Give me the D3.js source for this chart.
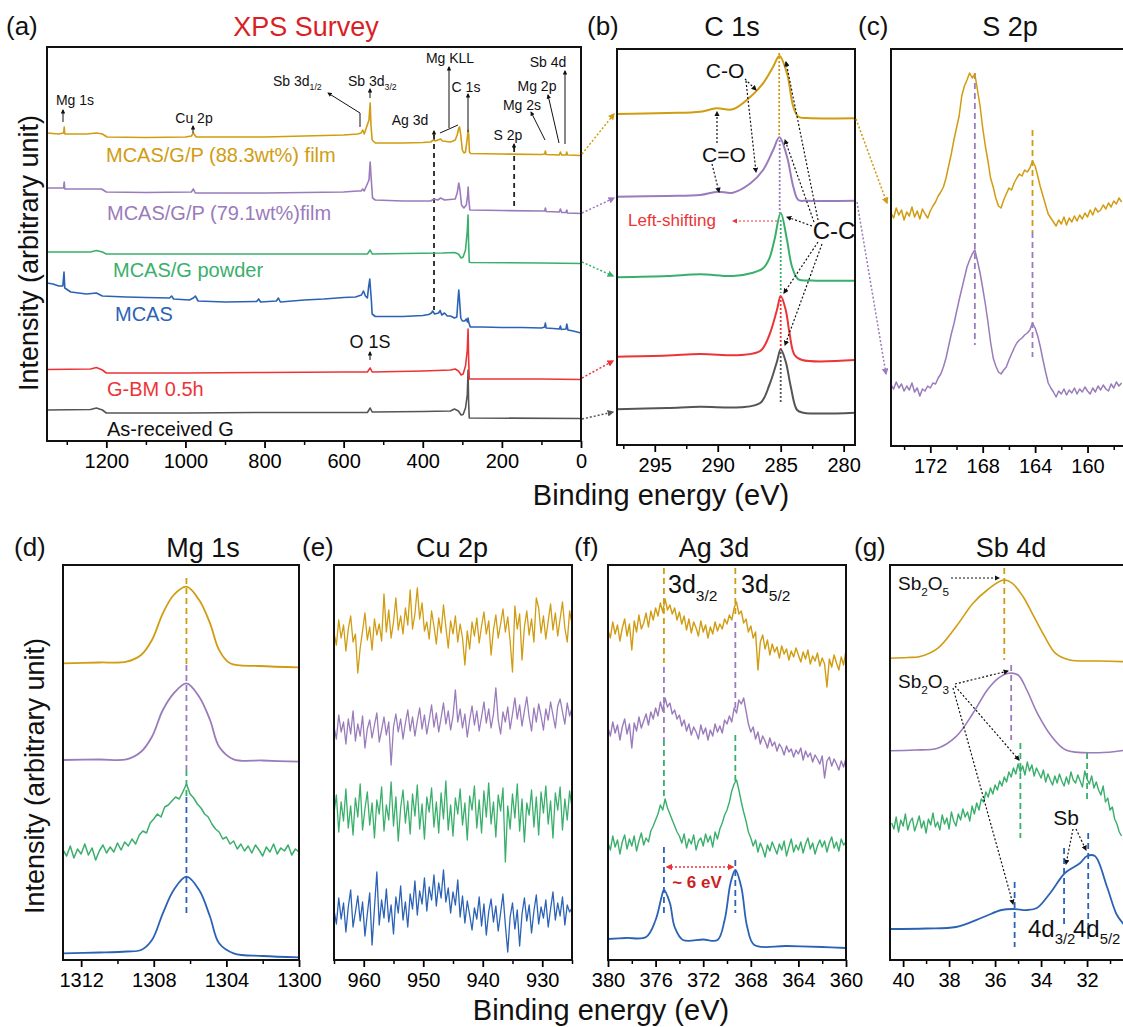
<!DOCTYPE html>
<html>
<head>
<meta charset="utf-8">
<script src="https://cdn.jsdelivr.net/npm/d3@7"></script>
<style>
  body { margin: 0; background: #fff; }
  svg text { font-family: "Liberation Sans", Arial, sans-serif; }
</style>
</head>
<body>
<script>
// ---------- data (binding energy in eV, intensity in arbitrary units) ----------

// (a) survey, [BE, intensity]
const surveyGold = [[1350,308],[1320,307],[1308,308],[1306.5,314],[1305,307],[1250,307],[1225,308],[1210,307],[1198,304],[1100,303.5],[1000,304],[985,305],[980,308],[973,304],[900,304],[800,304],[700,305],[600,306],[565,307],[556,308],[552,311],[548,307],[536,321],[533,338],[531,316],[528,301],[520,298],[450,298],[400,298.5],[380,299],[373,301],[368,300],[355,302],[350,300],[330,299],[318,301],[313,306],[309,313],[307,314],[304,306],[300,291],[296,288],[292,289],[288,301],[285.3,311],[283.8,306],[282,289],[279,287.5],[200,287],[100,286.5],[92,287],[90,290],[88,286.5],[55,286],[52,289],[49,286],[38,286],[36,289],[34,286],[0,285.5]];
const surveyPurple = [[1350,253],[1310,253],[1308,253],[1306.5,259],[1305,252],[1230,252],[1212,252],[1200,249],[1100,248.5],[985,249],[980,252],[975,248],[900,248],[800,248],[700,248.5],[600,249],[565,250],[556,250],[552,252],[548,250],[536,261],[533,279],[531,266],[527,243],[520,241],[450,240],[380,240],[372,242],[362,241],[355,243],[345,241],[318,242],[313,248],[309,258],[306,251],[302,236],[296,233],[290,236],[286.5,246],[285.3,254],[283.5,241],[281,231],[200,230.5],[100,230],[92,230],[90,233],[88,229.5],[55,229],[52,232],[49,228.5],[38,228.5],[36,231],[34,228],[0,227.5]];
const surveyGreen = [[1350,189],[1240,189],[1225,190.5],[1210,189],[1200,187],[1000,187],[800,187],[600,187],[540,187],[533,191],[528,187],[450,187.5],[350,188],[320,188.5],[310,187],[303,183],[298,184],[292,191],[287.5,210],[285.5,226],[284.3,200],[282.5,179],[279,178.5],[100,178],[0,177.5]];
const surveyBlue = [[1350,158],[1335,157],[1320,155],[1310,155],[1307,169],[1305,153],[1290,149],[1250,147],[1225,148],[1210,145],[1150,144],[1100,143.5],[1040,143],[1035,145],[1030,142],[990,141],[980,143],[975,145],[968,140],[900,139],[820,139.5],[815,142],[810,139],[770,140],[765,143],[760,139],[700,141],[650,142],[600,143.5],[570,144],[555,146],[550,150],[545,145],[540,143],[537,154],[534,162],[532,151],[530,141],[528,127],[520,124.5],[450,124.5],[400,125.5],[385,126.5],[378,128],[375,130],[370,127],[360,128],[356,130.5],[352,126],[345,128],[338,125],[330,125],[320,123],[314,124],[311,141],[309,151],[307,141],[304,123],[300,120],[294,120],[290,122],[287,119],[285.5,123],[284,119],[280,114],[250,114],[200,113.5],[150,113.5],[100,113],[92,114],[90,118],[88,113],[70,112.5],[55,112],[52,115],[50,111.5],[38,112],[36,117],[33,111],[20,110],[10,109],[0,108]];
const surveyRed = [[1350,71.5],[1240,72],[1225,73.5],[1210,71],[1200,68],[1100,68],[1000,68],[800,68.5],[600,69],[540,69],[533,73],[528,69],[400,70],[330,71],[318,72],[310,70],[303,66],[298,67],[292,75],[287.5,91],[285.5,112],[284.3,86],[282.5,62],[279,62],[100,62],[0,61.5]];
const surveyGray = [[1350,31],[1240,31.5],[1225,33],[1210,31],[1200,28],[1000,28],[800,28.5],[600,28.5],[540,28.5],[533,33],[528,29],[400,29.5],[330,30],[320,32],[310,30],[303,26],[298,26.5],[292,33],[287.5,46],[285.5,71],[284.3,41],[282.5,23],[0,22.5]];

// (b) C 1s, [BE, intensity]
const c1sGold = [[298,331],[294,332],[291.4,333.3],[290.1,336.7],[288.8,335.7],[287.4,348.3],[286.4,361.7],[285.6,378.3],[285.1,389],[284.5,371.7],[284.0,338.3],[283.6,328.3],[282.9,327],[279,326.7]];
const c1sPurple = [[298,248.3],[294,249],[291.4,250],[290,253.3],[288.8,252.3],[287.4,261.7],[286.4,275],[285.6,295],[285.1,307.7],[284.5,288.3],[284.0,258.3],[283.6,245],[282.9,244.3],[279,244.3]];
const c1sGreen = [[298,167.7],[294,169],[291.4,170.7],[288.8,169],[287.2,172.3],[286.4,176.7],[285.9,186.7],[285.5,205],[285.0,232],[284.5,205],[284.1,178.3],[283.6,165.7],[282.5,164.5],[279,164.3]];
const c1sRed = [[298,88.3],[294,89.5],[291.4,91],[288.2,90],[286.6,94.3],[285.9,110],[285.3,135],[285.0,149],[284.6,135],[284.3,111.7],[283.9,90],[283.3,85],[279,85]];
const c1sGray = [[298,35.7],[294,37],[291.4,38.3],[288.2,37.7],[286.6,42.3],[285.9,60],[285.3,83.3],[285.0,95.7],[284.6,83.3],[284.2,58.3],[283.7,35],[283.2,32.3],[279,32.3]];

// (c) S 2p, 0.2 eV steps from 175 eV
const s2pStart = 175, s2pStep = 0.2;
const s2pGold = [233,228,238,231,236,226,234,230,239,229,235,227,237,232,228,235,240,244,250,254,259,268,280,292,306,318,330,350,360,366,373,368,372,356,340,318,300,285,268,259,248,240,238,246,252,258,256,263,268,272,270,276,274,278,285,280,270,259,250,241,232,228,224,220,226,222,229,221,228,224,230,225,231,227,233,229,236,231,238,234,236,241,237,243,239,245,242,248,244];
const s2pPurple = [61,57,64,58,62,55,60,56,63,54,58,50,57,55,60,58,63,62,68,72,79,88,100,112,122,134,146,157,168,179,186,192,196,185,173,158,142,124,104,88,80,74,72,76,79,86,92,98,103,106,108,111,113,116,123,118,110,99,86,74,63,58,54,49,55,52,57,51,56,53,58,52,57,54,59,55,52,58,54,60,56,61,57,55,62,58,64,60,63];

// (d) Mg 1s
const mgGold = [[1313,296.7],[1311,297.5],[1309.5,298.3],[1308.7,305],[1308.1,320],[1307.5,346.7],[1306.9,365],[1306.2,373.3],[1305.5,360],[1304.9,336.7],[1304.4,310],[1303.8,296.7],[1302.2,294],[1300,292.7]];
const mgPurple = [[1313,200],[1311,200.5],[1309.5,200.7],[1308.7,208.3],[1308.1,223.3],[1307.5,250],[1306.9,266.7],[1306.2,276.7],[1305.5,263.3],[1304.9,240],[1304.4,213.3],[1303.6,200.7],[1302,199.5],[1300,198.3]];
const mgGreenStart = 1313, mgGreenStep = 0.2;
const mgGreen = [110,104,114,102,111,106,116,105,112,100,109,115,107,113,108,117,110,118,114,121,116,125,129,127,137,141,146,143,153,155,159,163,161,168,176,166,162,156,152,146,143,136,131,128,121,123,116,119,111,116,109,114,107,115,110,104,113,108,116,106,112,109,115,105,111,108];
const mgBlue = [[1313,6.7],[1311,7.5],[1309.5,8.5],[1308.7,10],[1308.1,20],[1307.5,46.7],[1306.9,70],[1306.2,83.3],[1305.5,70],[1304.9,43.3],[1304.4,16.7],[1303.6,6.7],[1302,4],[1300,2.7]];

// (e) Cu 2p, 0.4 eV steps from 965 eV
const cuStart = 965, cuStep = 0.4;
const cuGold = [327,315,340,322,335,309,331,344,318,326,287,312,329,347,320,333,310,341,325,336,319,366,328,350,322,338,362,330,344,326,352,335,370,331,346,372,341,357,329,338,321,349,334,316,342,327,355,333,312,339,326,344,318,336,322,295,329,311,338,324,342,317,334,348,326,339,305,330,345,322,336,351,328,343,319,288,354,331,346,300,333,349,325,341,318,362,352,327,344,321,339,356,330,347,324,341,358,332,318,349,336];
const cuPurple = [233,221,245,228,238,216,241,226,249,219,236,224,244,212,231,240,222,235,247,218,230,243,225,238,195,233,246,228,241,221,237,250,229,243,224,239,252,231,245,226,240,255,233,247,228,242,257,236,249,230,244,270,238,251,232,246,223,240,254,235,249,229,243,258,237,251,232,246,272,240,226,248,238,253,231,246,262,241,255,234,249,263,243,229,252,238,256,244,230,251,240,258,245,232,254,261,248,236,257,244,252];
const cuGreen = [147,165,128,158,139,171,132,154,125,162,143,176,130,151,168,135,157,122,160,146,173,129,155,140,178,134,163,119,152,170,137,159,126,166,144,175,131,156,121,163,148,172,133,158,127,167,141,179,130,155,124,162,146,171,135,157,120,164,150,174,132,160,127,169,143,177,136,158,123,165,149,172,98,154,131,166,142,176,129,161,118,157,145,170,133,163,125,168,147,174,136,159,122,167,150,173,130,161,140,169,152];
const cuBlue = [50,36,62,41,57,28,53,70,33,48,64,39,58,24,46,67,15,52,88,35,60,42,71,38,55,26,63,47,74,40,58,33,66,51,79,45,69,56,82,49,73,60,85,54,77,62,90,58,72,47,68,55,80,43,64,37,59,45,30,52,41,63,34,56,25,48,61,38,54,29,47,66,35,8,43,57,31,50,14,46,62,39,55,27,49,65,36,53,42,60,33,51,68,40,57,44,63,35,55,48,52];

// (f) Ag 3d, 0.2 eV steps from 380 eV
const agStart = 380, agStep = 0.2;
const agGold = [330,322,338,326,335,319,332,341,324,336,310,339,328,345,331,337,347,333,349,340,352,344,357,348,361,350,355,346,352,340,348,336,344,330,341,327,338,332,324,339,328,335,322,333,326,338,329,336,331,341,336,345,340,352,358,346,349,337,341,328,334,322,328,290,318,325,311,320,305,316,308,313,302,314,306,311,300,309,303,312,305,298,308,301,310,296,304,299,307,294,302,296,273,301,293,305,297,290,303,295,310];
const agPurple = [232,224,238,227,235,220,233,241,226,236,212,237,229,243,232,239,246,235,248,241,252,244,258,249,262,253,257,246,250,241,245,234,240,229,236,225,233,228,221,235,226,232,220,230,224,236,228,234,227,240,236,244,238,252,247,260,256,262,249,236,228,233,221,228,216,224,219,212,222,214,218,209,216,212,205,214,208,211,203,210,206,212,200,209,203,207,198,205,201,196,204,182,199,203,194,201,196,190,199,193,202];
const agGreen = [117,110,124,113,120,106,118,125,111,121,114,124,109,119,127,115,122,118,129,134,140,146,155,150,161,152,146,140,134,128,124,117,126,112,121,116,125,110,119,122,114,126,118,124,113,128,121,131,137,145,150,158,169,176,180,170,158,148,139,128,122,114,120,108,117,111,103,115,109,118,112,106,116,110,119,104,113,121,108,115,110,118,107,116,122,111,117,106,114,120,113,119,108,117,123,112,118,109,121,115,118];
const agBlue = [[380,21],[378.5,22],[376.8,23],[376.0,40],[375.5,63],[375.3,70],[374.8,57],[374.4,33],[373.7,20],[372,20.5],[370.8,20],[370.2,40],[369.7,77],[369.3,90],[368.8,73],[368.3,33],[367.7,15],[365,14],[362,13],[360,12]];

// (g) Sb 4d
const sbGold = [[40.57,301.7],[39.8,302.5],[39.3,303.3],[38.5,311.7],[37.7,333.3],[36.96,356.7],[36.34,370],[35.64,380],[35.25,376.7],[34.78,363.3],[34.31,343.3],[33.84,323.3],[33.37,306.7],[32.75,300],[31.5,299],[30.3,298.3]];
const sbPurple = [[40.57,209.3],[39.5,210],[38.5,211.7],[37.7,223.3],[36.96,246.7],[36.34,270],[35.87,281.7],[35.4,286.7],[35.0,285],[34.62,270],[34.16,246.7],[33.53,223.3],[32.92,210],[31.5,207.3],[30.3,210]];
const sbGreenStart = 40.5, sbGreenStep = 0.1;
const sbGreen = [137,131,143,128,140,134,146,130,138,142,129,136,144,132,139,127,141,135,147,133,138,130,145,136,142,131,148,139,134,146,140,151,143,148,139,154,146,157,150,161,158,168,163,172,166,175,170,179,174,183,178,188,183,192,186,196,188,194,185,198,189,195,184,192,187,182,190,178,186,180,175,184,177,186,179,174,183,176,188,180,177,185,179,173,189,181,176,184,172,178,170,165,174,158,162,150,153,141,136,128,124];
const sbBlue = [[40.57,31],[39,31.5],[37.7,33],[36.5,43],[35.72,50],[35.2,51],[34.6,50],[34.18,52],[33.6,67],[32.96,87],[32.3,97],[32.0,104],[31.66,104],[31.13,73],[30.7,45],[30.3,33]];

// ---------- drawing ----------
const FONT = '"Liberation Sans", Arial, sans-serif';
const C = { gold: "#d09c12", purple: "#9a7bbb", green: "#3aaf6b", blue: "#2c62b5", red: "#ec3437", gray: "#555555", black: "#111111" };

const svg = d3.select("body").append("svg").attr("width", 1123).attr("height", 1027);
const defs = svg.append("defs");

Object.entries(C).forEach(([k, c]) => {
  defs.append("marker").attr("id", "ah-" + k)
    .attr("viewBox", "0 0 10 10").attr("refX", 8).attr("refY", 5)
    .attr("markerWidth", 4.5).attr("markerHeight", 4.5)
    .attr("orient", "auto-start-reverse")
    .append("path").attr("d", "M0,0L10,5L0,10z").attr("fill", c);
});

const onGrid = (start, step, vals) => vals.map((v, i) => [start - step * i, v]);

const panels = {
  a: { left: 47, right: 581, top: 47, bottom: 441, domain: [1350, 0], major: [1200, 1000, 800, 600, 400, 200, 0], minor: [1300, 1100, 900, 700, 500, 300, 100] },
  b: { left: 617, right: 855, top: 49, bottom: 445, domain: [298, 279.1], major: [295, 290, 285, 280], minor: [297.5, 292.5, 287.5, 282.5] },
  c: { left: 891, right: 1125, top: 49, bottom: 446, domain: [175, 157.14], major: [172, 168, 164, 160], minor: [174, 170, 166, 162, 158] },
  d: { left: 63, right: 299, top: 565, bottom: 960, domain: [1313, 1300], major: [1312, 1308, 1304, 1300], minor: [1310, 1306, 1302] },
  e: { left: 334, right: 572, top: 565, bottom: 960, domain: [965, 925], major: [960, 950, 940, 930], minor: [965, 955, 945, 935, 925] },
  f: { left: 608, right: 846, top: 565, bottom: 960, domain: [380, 360], major: [380, 376, 372, 368, 364, 360], minor: [378, 374, 370, 366, 362] },
  g: { left: 890, right: 1125, top: 565, bottom: 960, domain: [40.57, 30.35], major: [40, 38, 36, 34, 32], minor: [39, 37, 35, 33, 31] }
};

function makePanel(key) {
  const p = panels[key];
  const x = d3.scaleLinear().domain(p.domain).range([p.left, p.right]);
  const y = d3.scaleLinear().domain([0, p.bottom - p.top]).range([p.bottom, p.top]);
  defs.append("clipPath").attr("id", "clip-" + key).append("rect")
    .attr("x", p.left).attr("y", p.top)
    .attr("width", Math.min(p.right, 1123) - p.left).attr("height", p.bottom - p.top);
  const g = svg.append("g");
  const plot = g.append("g").attr("clip-path", "url(#clip-" + key + ")");

  const major = g.append("g").attr("transform", `translate(0,${p.bottom})`)
    .call(d3.axisBottom(x).tickValues(p.major).tickSize(7).tickPadding(6).tickFormat(d3.format("d")));
  major.attr("font-size", 20).attr("font-family", FONT);
  major.select(".domain").remove();
  major.selectAll("line").attr("stroke-width", 1.8);
  const minor = g.append("g").attr("transform", `translate(0,${p.bottom})`)
    .call(d3.axisBottom(x).tickValues(p.minor).tickSize(4).tickFormat(""));
  minor.select(".domain").remove();
  minor.selectAll("line").attr("stroke-width", 1.5);

  g.append("rect").attr("x", p.left).attr("y", p.top)
    .attr("width", p.right - p.left).attr("height", p.bottom - p.top)
    .attr("fill", "none").attr("stroke", "#111").attr("stroke-width", 2);
  return { x, y, plot, g };
}

function series(P, data, color, width, curve) {
  P.plot.append("path").datum(data)
    .attr("fill", "none").attr("stroke", color).attr("stroke-width", width)
    .attr("stroke-linejoin", "round")
    .attr("d", d3.line().x(d => P.x(d[0])).y(d => P.y(d[1])).curve(curve || d3.curveLinear));
}

// vertical guide at a binding energy, between two intensities
function guide(P, be, v0, v1, color, dash) {
  P.plot.append("line")
    .attr("x1", P.x(be)).attr("x2", P.x(be)).attr("y1", P.y(v0)).attr("y2", P.y(v1))
    .attr("stroke", color).attr("stroke-width", 1.8).attr("stroke-dasharray", dash || "6,4");
}

// leader / arrow in page pixels
function leader(pts, color, opt) {
  opt = opt || {};
  const path = svg.append("path")
    .attr("d", d3.line()(pts)).attr("fill", "none")
    .attr("stroke", C[color]).attr("stroke-width", opt.w || 1.2);
  if (opt.dash) path.attr("stroke-dasharray", opt.dash);
  if (opt.head !== false) path.attr("marker-end", "url(#ah-" + color + ")");
  if (opt.both) path.attr("marker-start", "url(#ah-" + color + ")");
}

// text with optional subscripts: parts = ["Sb 3d", ["1/2"]]
function label(x, y, parts, size, color, anchor, weight) {
  const t = svg.append("text").attr("x", x).attr("y", y)
    .attr("font-size", size).attr("fill", color || "#111")
    .attr("text-anchor", anchor || "start").attr("font-weight", weight || "normal");
  let sub = false;
  parts.forEach(part => {
    if (Array.isArray(part)) {
      t.append("tspan").attr("font-size", size * 0.62).attr("dy", size * 0.3).text(part[0]);
      sub = true;
    } else {
      const s = t.append("tspan").text(part);
      if (sub) { s.attr("dy", -size * 0.3); sub = false; }
    }
  });
  return t;
}

// ---- (a) survey
const A = makePanel("a");
guide(A, 371.6, 306, 131, "#222", "5,4");
guide(A, 169, 294, 231, "#222", "5,4");
series(A, surveyGray, C.gray, 1.6);
series(A, surveyRed, C.red, 1.6);
series(A, surveyBlue, C.blue, 1.6);
series(A, surveyGreen, C.green, 1.6);
series(A, surveyPurple, C.purple, 1.6);
series(A, surveyGold, C.gold, 1.6);

label(106, 162, ["MCAS/G/P (88.3wt%) film"], 20, C.gold);
label(107, 220, ["MCAS/G/P (79.1wt%)film"], 20, C.purple);
label(113, 277, ["MCAS/G powder"], 20, C.green);
label(115, 321, ["MCAS"], 20, C.blue);
label(107, 396, ["G-BM 0.5h"], 20, C.red);
label(107, 436, ["As-received G"], 20, C.black);

label(75, 105, ["Mg 1s"], 14, "#111", "middle");
leader([[63, 122], [63, 110]], "black", { w: 1 });
label(194, 123, ["Cu 2p"], 14, "#111", "middle");
leader([[193, 133], [193, 126]], "black", { w: 1 });
label(273, 86, ["Sb 3d", ["1/2"]], 14, "#111");
leader([[360, 127], [360, 113], [328, 93]], "black", { w: 1 });
label(348, 86, ["Sb 3d", ["3/2"]], 14, "#111");
leader([[370, 98], [370, 89]], "black", { w: 1 });
label(450, 63, ["Mg KLL"], 14, "#111", "middle");
leader([[449, 128], [449, 67]], "black", { w: 1 });
leader([[440, 133], [458, 125]], "black", { w: 1, head: false });
label(410, 125, ["Ag 3d"], 14, "#111", "middle");
leader([[434, 136], [434, 131]], "black", { w: 1 });
label(466, 92, ["C 1s"], 14, "#111", "middle");
leader([[468, 132], [468, 94]], "black", { w: 1 });
label(508, 140, ["S 2p"], 14, "#111", "middle");
leader([[514, 149], [514, 144]], "black", { w: 1 });
label(522, 110, ["Mg 2s"], 14, "#111", "middle");
leader([[545, 140], [531, 112]], "black", { w: 1 });
label(537, 91, ["Mg 2p"], 14, "#111", "middle");
leader([[559, 143], [548, 95]], "black", { w: 1 });
label(548, 67, ["Sb 4d"], 14, "#111", "middle");
leader([[565, 144], [565, 71]], "black", { w: 1 });
label(370, 348, ["O 1S"], 18, "#111", "middle");
leader([[370, 360], [370, 352]], "black", { w: 1 });

// ---- (b) C 1s
const B = makePanel("b");
const smooth = d3.curveCatmullRom.alpha(0.5);
series(B, c1sGray, C.gray, 2, smooth);
series(B, c1sRed, C.red, 2, smooth);
series(B, c1sGreen, C.green, 2, smooth);
series(B, c1sPurple, C.purple, 2, smooth);
series(B, c1sGold, C.gold, 2, smooth);
guide(B, 285.12, 392, 308, C.gold, "2,2");
guide(B, 285.08, 305, 232, C.purple, "2,2");
guide(B, 285.0, 225, 152, C.green, "2,2");
guide(B, 285.0, 149, 96, C.red, "2,2");
guide(B, 285.0, 93, 43, C.gray, "2,2");

label(725, 78, ["C-O"], 21, "#111", "middle");
leader([[745, 79], [756, 90]], "black", { dash: "2,2" });
leader([[746, 81], [756, 172]], "black", { dash: "2,2" });
label(724, 162, ["C=O"], 21, "#111", "middle");
leader([[717, 143], [717, 112]], "black", { dash: "2,2" });
leader([[712, 164], [719, 192]], "black", { dash: "2,2" });
label(834, 239, ["C-C"], 24, "#111", "middle");
leader([[818, 220], [786, 62]], "black", { dash: "2,2" });
leader([[814, 222], [785, 140]], "black", { dash: "2,2" });
leader([[812, 226], [787, 217]], "black", { dash: "2,2" });
leader([[818, 242], [784, 293]], "black", { dash: "2,2" });
leader([[822, 244], [785, 345]], "black", { dash: "2,2" });
label(628, 226, ["Left-shifting"], 17, C.red);
leader([[777, 221], [733, 221]], "red", { dash: "2,2" });

// ---- (c) S 2p
const Cp = makePanel("c");
guide(Cp, 168.6, 373, 101, C.purple, "6,4");
guide(Cp, 164.2, 316, 214, C.gold, "6,4");
guide(Cp, 164.2, 214, 89, C.purple, "6,4");
series(Cp, onGrid(s2pStart, s2pStep, s2pPurple), C.purple, 1.5);
series(Cp, onGrid(s2pStart, s2pStep, s2pGold), C.gold, 1.5);

// arrows linking panels
leader([[582, 154], [614, 114]], "gold", { dash: "2,2", w: 1.5 });
leader([[582, 213], [614, 198]], "purple", { dash: "2,2", w: 1.5 });
leader([[582, 262], [613, 276]], "green", { dash: "2,2", w: 1.5 });
leader([[582, 378], [613, 361]], "red", { dash: "2,2", w: 1.5 });
leader([[582, 419], [613, 412]], "gray", { dash: "2,2", w: 1.5 });
leader([[856, 119], [887, 203]], "gold", { dash: "2,2", w: 1.5 });
leader([[857, 202], [886, 374]], "purple", { dash: "2,2", w: 1.5 });

// ---- (d) Mg 1s
const D = makePanel("d");
guide(D, 1306.2, 382, 295, C.gold, "6,4");
guide(D, 1306.2, 295, 190, C.purple, "6,4");
guide(D, 1306.2, 190, 163, C.green, "6,4");
guide(D, 1306.2, 163, 43, C.blue, "6,4");
series(D, mgGold, C.gold, 1.8, smooth);
series(D, mgPurple, C.purple, 1.8, smooth);
series(D, onGrid(mgGreenStart, mgGreenStep, mgGreen), C.green, 1.5);
series(D, mgBlue, C.blue, 1.8, smooth);

// ---- (e) Cu 2p
const E = makePanel("e");
series(E, onGrid(cuStart, cuStep, cuGold), C.gold, 1.3);
series(E, onGrid(cuStart, cuStep, cuPurple), C.purple, 1.3);
series(E, onGrid(cuStart, cuStep, cuGreen), C.green, 1.3);
series(E, onGrid(cuStart, cuStep, cuBlue), C.blue, 1.3);

// ---- (f) Ag 3d
const F = makePanel("f");
guide(F, 375.3, 392, 297, C.gold, "6,4");
guide(F, 375.3, 293, 220, C.purple, "6,4");
guide(F, 375.3, 220, 160, C.green, "6,4");
guide(F, 375.3, 113, 43, C.blue, "6,4");
guide(F, 369.3, 392, 343, C.gold, "6,4");
guide(F, 369.3, 338, 250, C.purple, "6,4");
guide(F, 369.3, 225, 177, C.green, "6,4");
guide(F, 369.3, 100, 47, C.blue, "6,4");
series(F, onGrid(agStart, agStep, agGold), C.gold, 1.4);
series(F, onGrid(agStart, agStep, agPurple), C.purple, 1.4);
series(F, onGrid(agStart, agStep, agGreen), C.green, 1.4);
series(F, agBlue, C.blue, 1.8, smooth);
label(668, 593, ["3d", ["3/2"]], 25, "#111");
label(741, 593, ["3d", ["5/2"]], 25, "#111");
leader([[667, 867], [733, 867]], "red", { dash: "2,2", w: 1.4, both: true });
label(697, 888, ["~ 6 eV"], 17, "#cc1f1f", "middle", "bold");

// ---- (g) Sb 4d
const G = makePanel("g");
guide(G, 35.6, 392, 300, C.gold, "6,4");
guide(G, 35.3, 295, 220, C.purple, "6,4");
guide(G, 34.9, 217, 122, C.green, "6,4");
guide(G, 32.0, 207, 160, C.green, "6,4");
guide(G, 35.15, 78, 13, C.blue, "6,4");
guide(G, 33.0, 112, 33, C.blue, "6,4");
guide(G, 31.95, 127, 17, C.blue, "6,4");
series(G, sbGold, C.gold, 1.6, smooth);
series(G, sbPurple, C.purple, 1.6, smooth);
series(G, onGrid(sbGreenStart, sbGreenStep, sbGreen), C.green, 1.4);
series(G, sbBlue, C.blue, 1.8, smooth);
label(898, 590, ["Sb", ["2"], "O", ["5"]], 19, "#111");
leader([[951, 578], [999, 578]], "black", { dash: "2,2" });
label(898, 688, ["Sb", ["2"], "O", ["3"]], 19, "#111");
leader([[955, 684], [1008, 671]], "black", { dash: "2,2" });
leader([[955, 686], [1019, 760]], "black", { dash: "2,2" });
leader([[953, 688], [1013, 904]], "black", { dash: "2,2" });
label(1066, 825, ["Sb"], 21, "#111", "middle");
leader([[1073, 829], [1066, 864]], "black", { dash: "2,2" });
leader([[1076, 829], [1086, 850]], "black", { dash: "2,2" });
label(1028, 937, ["4d", ["3/2"]], 24, "#111");
label(1073, 937, ["4d", ["5/2"]], 24, "#111");

// ---- titles and axis labels
label(6, 35, ["(a)"], 26, "#111");
label(306, 36, ["XPS Survey"], 27, "#d91f26", "middle");
label(587, 35, ["(b)"], 26, "#111");
label(732, 36, ["C 1s"], 27, "#111", "middle");
label(858, 35, ["(c)"], 26, "#111");
label(1010, 36, ["S 2p"], 27, "#111", "middle");
label(14, 556, ["(d)"], 26, "#111");
label(203, 557, ["Mg 1s"], 27, "#111", "middle");
label(302, 556, ["(e)"], 26, "#111");
label(452, 557, ["Cu 2p"], 27, "#111", "middle");
label(574, 556, ["(f)"], 26, "#111");
label(714, 557, ["Ag 3d"], 27, "#111", "middle");
label(854, 556, ["(g)"], 26, "#111");
label(1011, 557, ["Sb 4d"], 27, "#111", "middle");

label(661, 505, ["Binding energy (eV)"], 29, "#111", "middle");
label(601, 1020, ["Binding energy (eV)"], 29, "#111", "middle");
label(0, 0, ["Intensity (arbitrary unit)"], 27, "#111", "middle")
  .attr("transform", "translate(38,253) rotate(-90)");
label(0, 0, ["Intensity (arbitrary unit)"], 27, "#111", "middle")
  .attr("transform", "translate(44,776) rotate(-90)");
</script>
</body>
</html>
